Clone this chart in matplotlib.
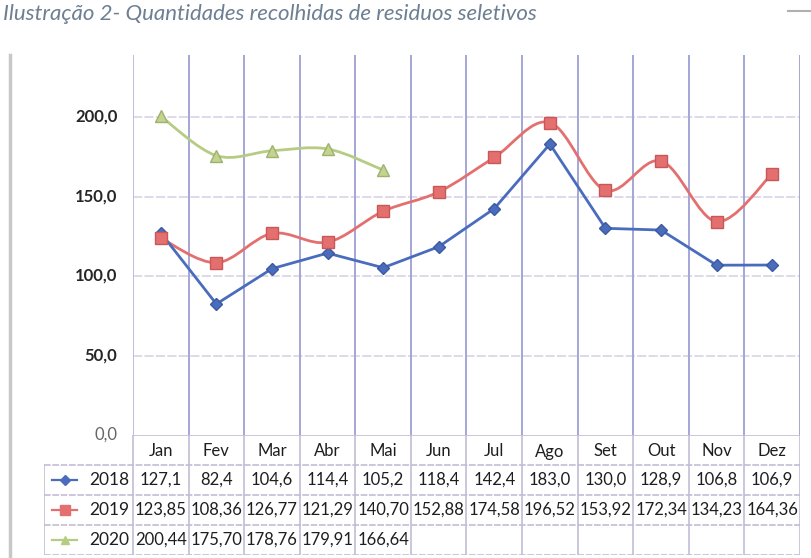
import numpy as np
import matplotlib.pyplot as plt
from matplotlib.path import Path
from matplotlib.patches import PathPatch
from matplotlib.lines import Line2D

meses = ["Jan", "Fev", "Mar", "Abr", "Mai", "Jun", "Jul", "Ago", "Set", "Out", "Nov", "Dez"]
v2018 = [127.1, 82.4, 104.6, 114.4, 105.2, 118.4, 142.4, 183.0, 130.0, 128.9, 106.8, 106.9]
v2019 = [123.85, 108.36, 126.77, 121.29, 140.70, 152.88, 174.58, 196.52, 153.92, 172.34, 134.23, 164.36]
v2020 = [200.44, 175.70, 178.76, 179.91, 166.64]
lbl2018 = ["127,1", "82,4", "104,6", "114,4", "105,2", "118,4", "142,4", "183,0", "130,0", "128,9", "106,8", "106,9"]
lbl2019 = ["123,85", "108,36", "126,77", "121,29", "140,70", "152,88", "174,58", "196,52", "153,92", "172,34", "134,23", "164,36"]
lbl2020 = ["200,44", "175,70", "178,76", "179,91", "166,64"]
yticks = [50, 100, 150, 200]

plt.rcParams["font.family"] = ["Lato", "DejaVu Sans"]

W, H = 812, 558
fig = plt.figure(figsize=(W / 100, H / 100), dpi=100)

# plot area in pixels
x0, x1, ytop, ybot = 133, 800, 55, 435
ax = fig.add_axes([x0 / W, 1 - ybot / H, (x1 - x0) / W, (ybot - ytop) / H])
ax.set_xlim(-0.5, 11.5)
ax.set_ylim(0, 239)
for s in ax.spines.values():
    s.set_visible(False)
ax.set_xticks([])
ax.set_yticks([])

# grid
for y in yticks:
    ax.axhline(y, color="#d6d0e4", lw=1.1, ls=(0, (6, 1.5)), zorder=0)
for k in range(13):
    ax.axvline(k - 0.5, color="#a4a7d6", lw=1.4, zorder=0)
ax.axvline(-0.5, color="#c9c0dc", lw=1.2, zorder=0)

for y in yticks:
    ax.text(-0.78, y, f"{y:.1f}".replace(".", ","), ha="right", va="center",
            fontsize=12, fontweight="bold", color="#262626")
ax.text(-0.78, 0, "0,0", ha="right", va="center", fontsize=12, color="#666666")


def smooth(ax, xs, ys, color):
    # Excel style smoothed line: Catmull-Rom drawn as cubic Bezier
    p = np.column_stack([xs, ys]).astype(float)
    verts = [p[0]]
    codes = [Path.MOVETO]
    for i in range(len(p) - 1):
        pm = p[i - 1] if i > 0 else p[i]
        pn = p[i + 2] if i + 2 < len(p) else p[i + 1]
        c1 = p[i] + (p[i + 1] - pm) / 6
        c2 = p[i + 1] - (pn - p[i]) / 6
        verts += [c1, c2, p[i + 1]]
        codes += [Path.CURVE4] * 3
    ax.add_patch(PathPatch(Path(verts, codes), fc="none", ec=color, lw=2, zorder=2))


c18, c19, c20 = "#4a6cbc", "#e46f6f", "#b6cc82"
x = np.arange(12)
ax.plot(x, v2018, color=c18, lw=2, marker="D", ms=6, mec="#3c5aa0", zorder=3)
smooth(ax, x, v2019, c19)
ax.plot(x, v2019, ls="none", marker="s", ms=8, color=c19, mec="#c85858", zorder=3)
smooth(ax, x[:5], v2020, c20)
ax.plot(x[:5], v2020, ls="none", marker="^", ms=8, color="#c2d48e", mec="#a0b070", zorder=3)

# data table under the chart
tl, tr, tt, tb = 44, 800, 435, 555
tax = fig.add_axes([tl / W, 1 - tb / H, (tr - tl) / W, (tb - tt) / H])
tax.set_xlim(-0.5 - (x0 - tl) / ((x1 - x0) / 12), 11.5)
tax.set_ylim(0, 4)
tax.axis("off")
left = tax.get_xlim()[0]
lc = "#c4bcd6"
tax.plot([-0.5, 11.5], [4, 4], color=lc, lw=1.2)
for yy in [3, 2, 1, 0]:
    tax.plot([left, 11.5], [yy, yy], color=lc, lw=1.2, ls=(0, (4, 1)))
tax.plot([left, left], [0, 3], color=lc, lw=1.2)
for k in range(13):
    tax.plot([k - 0.5, k - 0.5], [0, 4], color=lc, lw=1.2)

for i, m in enumerate(meses):
    tax.text(i, 3.45, m, ha="center", va="center", fontsize=12, color="#1e1e1e")

rows = [("2018", lbl2018, c18, "D", 5), ("2019", lbl2019, c19, "s", 7), ("2020", lbl2020, c20, "^", 6)]
for r, (yr, labels, col, mk, ms) in enumerate(rows):
    yy = 2.5 - r
    kx = [left + 0.15, left + 0.6]
    tax.plot(kx, [yy, yy], color=col, lw=1.6)
    tax.plot([sum(kx) / 2], [yy], marker=mk, ms=ms, color=col)
    tax.text(-0.56, yy, yr, ha="right", va="center", fontsize=12.5, color="#1e1e1e")
    for i, t in enumerate(labels):
        tax.text(i, yy, t, ha="center", va="center", fontsize=12, color="#1e1e1e")

fig.text(3 / W, 1 - 14 / H, "Ilustração 2- Quantidades recolhidas de residuos seletivos",
         ha="left", va="center", fontsize=16, style="italic", color="#6d7f93")

# outer chart border remnants
fig.add_artist(Line2D([10 / W, 10 / W], [0, 1 - 55 / H], color="#c8c8c8", lw=2.5))
fig.add_artist(Line2D([788 / W, 1], [1 - 11 / H, 1 - 11 / H], color="#b0b0b0", lw=1.5))

fig.savefig("out.png", dpi=100)
